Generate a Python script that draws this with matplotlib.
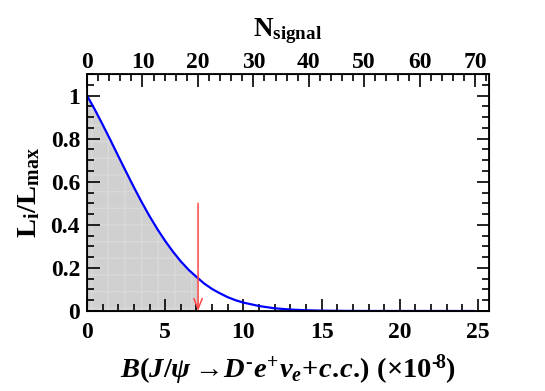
import numpy as np
import matplotlib
matplotlib.use('Agg')
import matplotlib.pyplot as plt
from matplotlib.ticker import MultipleLocator, FixedLocator, FixedFormatter

plt.rcParams['font.family'] = 'Liberation Serif'
plt.rcParams['font.weight'] = 'bold'
plt.rcParams['mathtext.fontset'] = 'custom'
plt.rcParams['mathtext.rm'] = 'Liberation Serif:bold'
plt.rcParams['mathtext.bf'] = 'Liberation Serif:bold'
plt.rcParams['mathtext.it'] = 'Liberation Serif:italic:bold'
plt.rcParams['hatch.linewidth'] = 1.0

# likelihood scan
br = [0, 0.5, 1, 1.5, 2, 2.5, 3, 3.5, 4, 4.5, 5, 5.5, 6, 6.5, 7, 7.1,
      7.5, 8, 8.5, 9, 9.5, 10, 11, 12, 13, 14, 15, 16, 17, 18, 20, 22, 24.7]
lik = [1.0, 0.935, 0.865, 0.793, 0.719, 0.646, 0.574, 0.505, 0.440, 0.380,
       0.325, 0.275, 0.230, 0.191, 0.158, 0.152, 0.127, 0.102, 0.082, 0.064,
       0.050, 0.039, 0.023, 0.0125, 0.0067, 0.0034, 0.0017, 0.0008, 0.0004,
       0.0002, 0.0, 0.0, 0.0]
upper_limit = 7.1
arrow_top = 0.5

br = np.array(br)
lik = np.array(lik)

fig = plt.figure(figsize=(5.45, 3.91), dpi=100)
ax = fig.add_axes([87/545, 80/391, 402/545, 237/391])

inside = br <= upper_limit
ax.fill_between(br[inside], 0, lik[inside], facecolor='#d0d0d0',
                edgecolor='#d9d9d9', hatch='+', linewidth=0)
ax.plot(br, lik, color='#0000ff', lw=1.6)
ax.annotate('', xy=(upper_limit, 0), xytext=(upper_limit, arrow_top),
            arrowprops=dict(arrowstyle='->,head_length=0.75,head_width=0.3',
                            color='#ff4444', lw=1.1, shrinkA=0, shrinkB=0))

ax.set_xlim(0, 25.7)
ax.set_ylim(0, 1.1)
ax.xaxis.set_major_locator(MultipleLocator(5))
ax.xaxis.set_minor_locator(MultipleLocator(1))
ax.yaxis.set_major_locator(FixedLocator([0, 0.2, 0.4, 0.6, 0.8, 1.0]))
ax.yaxis.set_major_formatter(FixedFormatter(['0', '0.2', '0.4', '0.6', '0.8', '1']))
ax.yaxis.set_minor_locator(MultipleLocator(0.05))
ax.tick_params(which='both', direction='in', right=True, top=False,
               labelsize=17, width=1.2)
ax.tick_params(axis='x', pad=8)
ax.tick_params(axis='y', pad=5)
ax.tick_params(which='major', length=9)
ax.tick_params(which='minor', length=5)
for s in ax.spines.values():
    s.set_linewidth(1.3)

ax.set_xlabel('$\\mathit{B(J/\\psi\\rightarrow\\!D^{\u2010}e^{+}\\nu_{e}\\!+\\!c.\\!c.\\!)}\\ \\mathrm{(\\times10^{\u2010\\!8})}$',
              fontsize=20.5, labelpad=7)
ax.set_ylabel(r'$\mathrm{L_{i}/L_{max}}$', fontsize=20.5, labelpad=6)

# top axis: number of signal events
top = ax.twiny()
top.set_xlim(0, 72.5)
top.xaxis.set_major_locator(MultipleLocator(10))
top.xaxis.set_minor_locator(MultipleLocator(2))
top.tick_params(which='both', direction='in', labelsize=17, width=1.2, pad=1)
top.tick_params(which='major', length=9)
top.tick_params(which='minor', length=5)
top.set_xlabel(r'$\mathrm{N_{signal}}$', fontsize=19.5, labelpad=11)

fig.savefig('out.png', dpi=100)
